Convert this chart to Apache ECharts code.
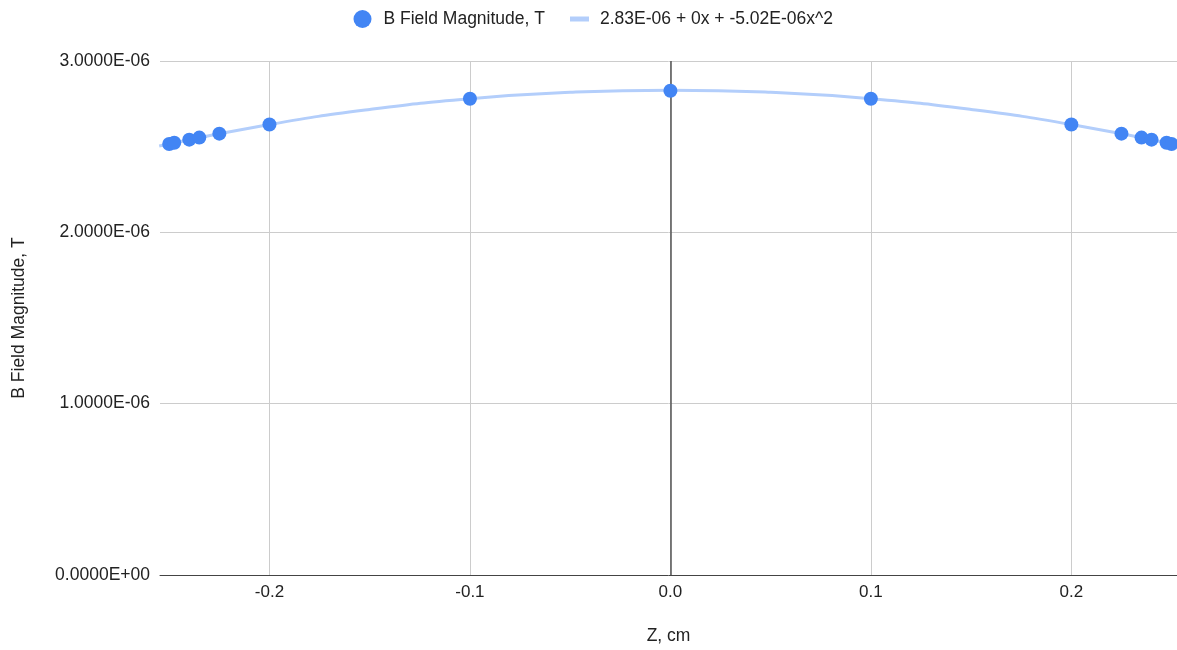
<!DOCTYPE html>
<html>
<head>
<meta charset="utf-8">
<script src="https://cdn.jsdelivr.net/npm/echarts@6/dist/echarts.min.js"></script>
<style>html,body{margin:0;padding:0;background:#fff}#c{width:1177px;height:650px}</style>
</head>
<body>
<div id="c"></div>
<script>
// Measured points (Z in cm, B in T)
var zValues = [-0.25, -0.2475, -0.24, -0.235, -0.225, -0.2, -0.1, 0, 0.1, 0.2, 0.225, 0.235, 0.24, 0.2475, 0.25];
var bValues = [2.516e-6, 2.523e-6, 2.541e-6, 2.553e-6, 2.576e-6, 2.629e-6, 2.780e-6, 2.826e-6, 2.780e-6, 2.629e-6, 2.576e-6, 2.553e-6, 2.541e-6, 2.523e-6, 2.516e-6];
// Trendline
var trendZ = [-0.255, -0.2, -0.15, -0.1, -0.05, 0, 0.05, 0.1, 0.15, 0.2, 0.255];
var trendB = [2.504e-6, 2.629e-6, 2.717e-6, 2.780e-6, 2.817e-6, 2.830e-6, 2.817e-6, 2.780e-6, 2.717e-6, 2.629e-6, 2.504e-6];
var seriesName = 'B Field Magnitude, T';
var trendName = '2.83E-06 + 0x + -5.02E-06x^2';
var xName = 'Z, cm';
var yName = 'B Field Magnitude, T';

function sci(v) {
  var s = Number(v).toExponential(4).split('e');
  var e = s[1];
  var sign = e[0];
  var d = e.slice(1);
  if (d.length < 2) d = '0' + d;
  return s[0] + 'E' + sign + d;
}

var font = 'Arial, "Liberation Sans", sans-serif';
var chart = echarts.init(document.getElementById('c'));
chart.setOption({
  animation: false,
  textStyle: { fontFamily: font },
  legend: [
    { data: [{ name: seriesName, icon: 'circle' }], left: 348.5, top: 5, itemWidth: 18, itemHeight: 18,
      textStyle: { fontSize: 17.5, color: '#222', fontFamily: font, padding: [0, 0, 0, 7] } },
    { data: [{ name: trendName, icon: 'rect' }], left: 565, top: 5, itemWidth: 19, itemHeight: 5,
      textStyle: { fontSize: 17.5, color: '#222', fontFamily: font, padding: [0, 0, 0, 6] } }
  ],
  grid: { left: 160, right: 0, top: 61, bottom: 75, containLabel: false },
  xAxis: {
    type: 'value', min: -0.2546, max: 0.2527, minInterval: 0.1, maxInterval: 0.1,
    name: xName, nameLocation: 'middle', nameGap: 52,
    nameTextStyle: { fontSize: 17.5, color: '#222', fontFamily: font },
    axisLine: { show: true, onZero: false, lineStyle: { color: '#444', width: 1 } },
    axisTick: { show: false },
    axisLabel: { fontSize: 17, color: '#222', margin: 9, showMinLabel: false, showMaxLabel: false,
      formatter: function (v) { return v.toFixed(1); } },
    splitLine: { show: true, showMinLine: false, showMaxLine: false, lineStyle: { color: '#cccccc', width: 1 } }
  },
  yAxis: {
    type: 'value', min: 0, max: 3e-6, interval: 1e-6,
    name: yName, nameLocation: 'middle', nameGap: 132,
    nameTextStyle: { fontSize: 17.5, color: '#222', fontFamily: font },
    axisLine: { show: false },
    axisTick: { show: false },
    axisLabel: { fontSize: 17.5, color: '#222', margin: 10, formatter: sci },
    splitLine: { show: true, lineStyle: { color: '#cccccc', width: 1 } }
  },
  series: [
    {
      name: trendName, type: 'line', data: trendZ.map(function (z, i) { return [z, trendB[i]]; }),
      smooth: true, showSymbol: false, symbol: 'none',
      lineStyle: { color: '#b3cefb', width: 3 }, itemStyle: { color: '#b3cefb' }, z: 2
    },
    {
      name: seriesName, type: 'scatter', data: zValues.map(function (z, i) { return [z, bValues[i]]; }),
      symbolSize: 14, itemStyle: { color: '#4285f4', opacity: 1 }, z: 3,
      markLine: { silent: true, symbol: 'none', label: { show: false },
        lineStyle: { color: '#555', width: 1.5, type: 'solid' }, data: [{ xAxis: 0 }], z: 1 }
    }
  ]
});
</script>
</body>
</html>
